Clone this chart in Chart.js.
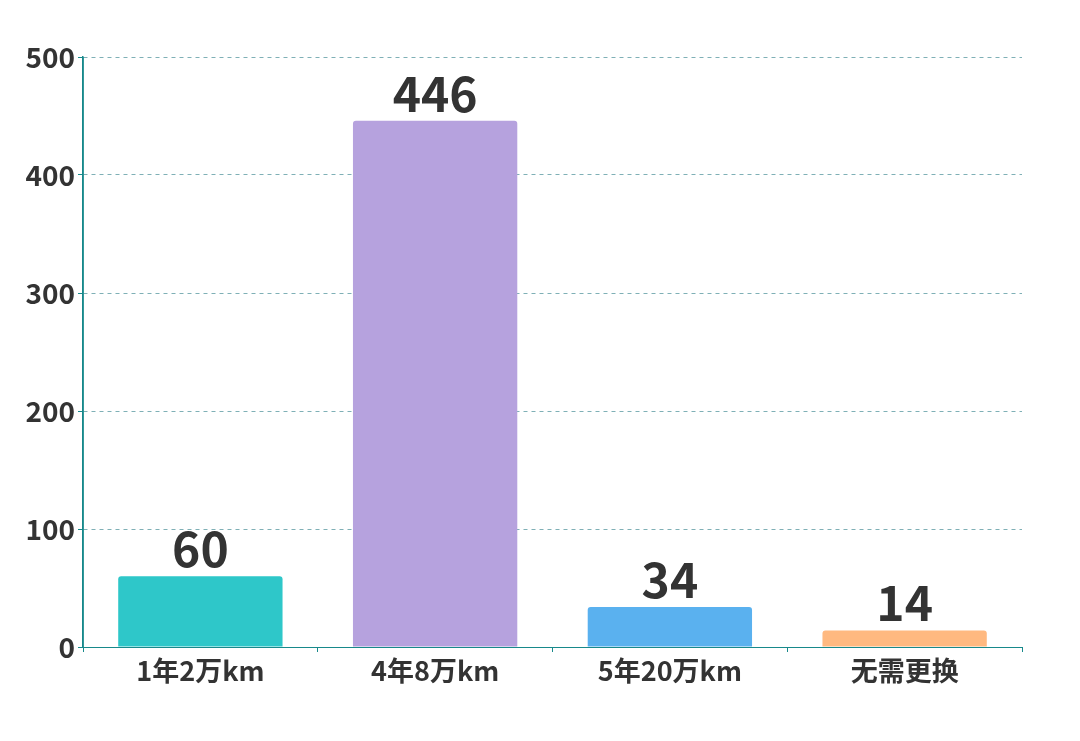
<!DOCTYPE html>
<html>
<head>
<meta charset="utf-8">
<script src="https://cdn.jsdelivr.net/npm/chart.js@4/dist/chart.umd.min.js"></script>
<style>
    html, body { margin: 0; padding: 0; background: #fff; }
    #wrap { width: 1080px; height: 741px; position: relative; }
</style>
</head>
<body>
<div id="wrap"><canvas id="chart"></canvas></div>
<script>
// Data
const categories = ['1年2万km', '4年8万km', '5年20万km', '无需更换'];
const counts = [60, 446, 34, 14];
const barColors = ['#2ec7c9', '#b6a2de', '#5ab1ef', '#ffb980'];
const yTicks = [0, 100, 200, 300, 400, 500];

const FONT = '"Noto Sans CJK SC", "Noto Sans", sans-serif';
const AXIS_COLOR = '#17898b';

// Draw the value above each bar
const valueLabels = {
    id: 'valueLabels',
    afterDatasetsDraw(chart) {
        const ctx = chart.ctx;
        const meta = chart.getDatasetMeta(0);
        ctx.save();
        ctx.font = 'bold 48px ' + FONT;
        ctx.fillStyle = '#333';
        ctx.textAlign = 'center';
        ctx.textBaseline = 'alphabetic';
        meta.data.forEach((bar, i) => {
            ctx.fillText(String(counts[i]), bar.x, bar.y - 9);
        });
        ctx.restore();
    }
};

const ctx = document.getElementById('chart').getContext('2d');
new Chart(ctx, {
    type: 'bar',
    data: {
        labels: categories,
        datasets: [{
            data: counts,
            backgroundColor: barColors,
            borderRadius: 3,
            categoryPercentage: 1,
            barPercentage: 0.7
        }]
    },
    options: {
        responsive: true,
        maintainAspectRatio: false,
        animation: false,
        layout: { padding: { top: 57, right: 58, left: 0, bottom: 0 } },
        plugins: {
            legend: { display: false },
            tooltip: { enabled: false }
        },
        scales: {
            x: {
                grid: {
                    display: true,
                    drawOnChartArea: false,
                    tickLength: 5,
                    color: AXIS_COLOR
                },
                border: { display: true, color: AXIS_COLOR, width: 1 },
                ticks: {
                    color: '#333',
                    padding: 3,
                    font: { family: FONT, size: 27, weight: 'bold' }
                },
                afterFit(scale) { scale.height = 94; }
            },
            y: {
                min: 0,
                max: 500,
                afterBuildTicks(scale) {
                    scale.ticks = yTicks.map(v => ({ value: v }));
                },
                grid: {
                    color: '#7fb0b6',
                    tickColor: AXIS_COLOR,
                    tickLength: 5,
                    tickBorderDash: [6, 0]
                },
                border: { display: true, color: AXIS_COLOR, width: 1.5, dash: [4, 4] },
                ticks: {
                    color: '#333',
                    padding: 3,
                    font: { family: FONT, size: 28, weight: 'bold' }
                },
                afterFit(scale) { scale.width = 83; }
            }
        }
    },
    plugins: [valueLabels, {
        // y axis line drawn solid on top (border.dash also dashes the grid)
        id: 'solidYAxis',
        afterDraw(chart) {
            const a = chart.chartArea;
            const c = chart.ctx;
            c.save();
            c.setLineDash([]);
            c.strokeStyle = AXIS_COLOR;
            c.lineWidth = 1.5;
            c.beginPath();
            c.moveTo(a.left, a.top);
            c.lineTo(a.left, a.bottom);
            c.stroke();
            c.restore();
        }
    }]
});
</script>
</body>
</html>
